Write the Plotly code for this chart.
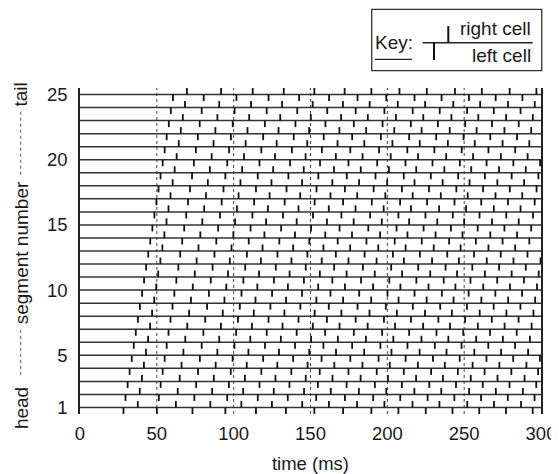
import plotly.graph_objects as go

# ---------------- data ----------------
segments = [1, 2, 3, 4, 5, 6, 7, 8, 9, 10, 11, 12, 13, 14, 15, 16, 17, 18, 19, 20, 21, 22, 23, 24, 25]
x_ticks = [0, 50, 100, 150, 200, 250, 300]
y_ticks = [1, 5, 10, 15, 20, 25]
dotted_times = [50, 100, 150, 200, 250]

# left-cell spike times (ms), one list per wave cycle, entry n = segment n+1
left_wave_01 = [28.3, 29.6, 31.0, 32.3, 33.7, 35.0, 36.3, 37.7, 39.0, 40.4, 41.7, 43.0, 44.4, 45.7, 47.1, 48.4, 49.7, 51.1, 52.4, 53.8, 55.1, 56.4, 57.8, 59.1, 60.5]
left_wave_02 = [50.0, 51.3, 52.5, 53.8, 55.1, 56.4, 57.6, 58.9, 60.2, 61.4, 62.7, 64.0, 65.2, 66.5, 67.8, 69.1, 70.3, 71.6, 72.9, 74.1, 75.4, 76.7, 77.9, 79.2, 80.5]
left_wave_03 = [73.2, 74.4, 75.6, 76.8, 78.0, 79.2, 80.3, 81.5, 82.7, 83.9, 85.1, 86.3, 87.5, 88.7, 89.9, 91.1, 92.2, 93.4, 94.6, 95.8, 97.0, 98.2, 99.4, 100.6, 101.8]
left_wave_04 = [94.6, 95.8, 96.9, 98.1, 99.3, 100.5, 101.6, 102.8, 104.0, 105.1, 106.3, 107.5, 108.6, 109.8, 111.0, 112.2, 113.3, 114.5, 115.7, 116.8, 118.0, 119.2, 120.3, 121.5, 122.7]
left_wave_05 = [114.5, 115.7, 116.8, 118.0, 119.2, 120.4, 121.5, 122.7, 123.9, 125.0, 126.2, 127.4, 128.5, 129.7, 130.9, 132.1, 133.2, 134.4, 135.6, 136.7, 137.9, 139.1, 140.2, 141.4, 142.6]
left_wave_06 = [134.0, 135.2, 136.3, 137.5, 138.7, 139.9, 141.0, 142.2, 143.4, 144.5, 145.7, 146.9, 148.0, 149.2, 150.4, 151.6, 152.7, 153.9, 155.1, 156.2, 157.4, 158.6, 159.7, 160.9, 162.1]
left_wave_07 = [152.5, 153.7, 154.8, 156.0, 157.2, 158.4, 159.5, 160.7, 161.9, 163.0, 164.2, 165.4, 166.5, 167.7, 168.9, 170.1, 171.2, 172.4, 173.6, 174.7, 175.9, 177.1, 178.2, 179.4, 180.6]
left_wave_08 = [171.2, 172.4, 173.5, 174.7, 175.9, 177.1, 178.2, 179.4, 180.6, 181.7, 182.9, 184.1, 185.2, 186.4, 187.6, 188.8, 189.9, 191.1, 192.3, 193.4, 194.6, 195.8, 196.9, 198.1, 199.3]
left_wave_09 = [189.6, 190.8, 191.9, 193.1, 194.3, 195.5, 196.6, 197.8, 199.0, 200.1, 201.3, 202.5, 203.6, 204.8, 206.0, 207.2, 208.3, 209.5, 210.7, 211.8, 213.0, 214.2, 215.3, 216.5, 217.7]
left_wave_10 = [207.2, 208.4, 209.5, 210.7, 211.9, 213.1, 214.2, 215.4, 216.6, 217.7, 218.9, 220.1, 221.2, 222.4, 223.6, 224.8, 225.9, 227.1, 228.3, 229.4, 230.6, 231.8, 232.9, 234.1, 235.3]
left_wave_11 = [225.0, 226.2, 227.3, 228.5, 229.7, 230.9, 232.0, 233.2, 234.4, 235.5, 236.7, 237.9, 239.0, 240.2, 241.4, 242.6, 243.7, 244.9, 246.1, 247.2, 248.4, 249.6, 250.7, 251.9, 253.1]
left_wave_12 = [242.4, 243.6, 244.7, 245.9, 247.1, 248.3, 249.4, 250.6, 251.8, 252.9, 254.1, 255.3, 256.4, 257.6, 258.8, 260.0, 261.1, 262.3, 263.5, 264.6, 265.8, 267.0, 268.1, 269.3, 270.5]
left_wave_13 = [259.8, 261.0, 262.1, 263.3, 264.5, 265.7, 266.8, 268.0, 269.2, 270.3, 271.5, 272.7, 273.8, 275.0, 276.2, 277.4, 278.5, 279.7, 280.9, 282.0, 283.2, 284.4, 285.5, 286.7, 287.9]
left_wave_14 = [277.2, 278.4, 279.5, 280.7, 281.9, 283.1, 284.2, 285.4, 286.6, 287.7, 288.9, 290.1, 291.2, 292.4, 293.6, 294.8, 295.9, 297.1, 298.3, 299.4]
left_wave_15 = [294.6, 295.8, 296.9, 298.1, 299.3]

# right-cell spike times (ms)
right_wave_01 = [37.6, 38.9, 40.3, 41.6, 42.9, 44.3, 45.6, 46.9, 48.3, 49.6, 50.9, 52.3, 53.6, 54.9, 56.3, 57.6, 58.9, 60.3, 61.6, 62.9, 64.3, 65.6, 66.9, 68.3, 69.6]
right_wave_02 = [62.4, 63.6, 64.9, 66.1, 67.3, 68.5, 69.8, 71.0, 72.2, 73.4, 74.7, 75.9, 77.1, 78.3, 79.6, 80.8, 82.0, 83.2, 84.5, 85.7, 86.9, 88.1, 89.4, 90.6, 91.8]
right_wave_03 = [84.8, 86.0, 87.1, 88.3, 89.4, 90.6, 91.7, 92.9, 94.0, 95.2, 96.3, 97.5, 98.6, 99.8, 100.9, 102.1, 103.2, 104.4, 105.5, 106.7, 107.8, 109.0, 110.1, 111.3, 112.4]
right_wave_04 = [105.0, 106.2, 107.3, 108.5, 109.6, 110.8, 111.9, 113.1, 114.2, 115.4, 116.5, 117.7, 118.8, 120.0, 121.1, 122.3, 123.4, 124.6, 125.7, 126.9, 128.0, 129.2, 130.3, 131.5, 132.6]
right_wave_05 = [124.9, 126.1, 127.2, 128.4, 129.5, 130.7, 131.8, 133.0, 134.1, 135.3, 136.4, 137.6, 138.7, 139.9, 141.0, 142.2, 143.3, 144.5, 145.6, 146.8, 147.9, 149.1, 150.2, 151.4, 152.5]
right_wave_06 = [144.6, 145.8, 146.9, 148.1, 149.2, 150.4, 151.5, 152.7, 153.8, 155.0, 156.1, 157.3, 158.4, 159.6, 160.7, 161.9, 163.0, 164.2, 165.3, 166.5, 167.6, 168.8, 169.9, 171.1, 172.2]
right_wave_07 = [162.0, 163.2, 164.3, 165.5, 166.6, 167.8, 168.9, 170.1, 171.2, 172.4, 173.5, 174.7, 175.8, 177.0, 178.1, 179.3, 180.4, 181.6, 182.7, 183.9, 185.0, 186.2, 187.3, 188.5, 189.6]
right_wave_08 = [180.3, 181.5, 182.6, 183.8, 184.9, 186.1, 187.2, 188.4, 189.5, 190.7, 191.8, 193.0, 194.1, 195.3, 196.4, 197.6, 198.7, 199.9, 201.0, 202.2, 203.3, 204.5, 205.6, 206.8, 207.9]
right_wave_09 = [198.1, 199.3, 200.4, 201.6, 202.7, 203.9, 205.0, 206.2, 207.3, 208.5, 209.6, 210.8, 211.9, 213.1, 214.2, 215.4, 216.5, 217.7, 218.8, 220.0, 221.1, 222.3, 223.4, 224.6, 225.7]
right_wave_10 = [216.4, 217.6, 218.7, 219.9, 221.0, 222.2, 223.3, 224.5, 225.6, 226.8, 227.9, 229.1, 230.2, 231.4, 232.5, 233.7, 234.8, 236.0, 237.1, 238.3, 239.4, 240.6, 241.7, 242.9, 244.0]
right_wave_11 = [233.9, 235.1, 236.2, 237.4, 238.5, 239.7, 240.8, 242.0, 243.1, 244.3, 245.4, 246.6, 247.7, 248.9, 250.0, 251.2, 252.3, 253.5, 254.6, 255.8, 256.9, 258.1, 259.2, 260.4, 261.5]
right_wave_12 = [252.0, 253.2, 254.3, 255.5, 256.6, 257.8, 258.9, 260.1, 261.2, 262.4, 263.5, 264.7, 265.8, 267.0, 268.1, 269.3, 270.4, 271.6, 272.7, 273.9, 275.0, 276.2, 277.3, 278.5, 279.6]
right_wave_13 = [269.4, 270.6, 271.7, 272.9, 274.0, 275.2, 276.3, 277.5, 278.6, 279.8, 280.9, 282.1, 283.2, 284.4, 285.5, 286.7, 287.8, 289.0, 290.1, 291.3, 292.4, 293.6, 294.7, 295.9, 297.0]
right_wave_14 = [287.0, 288.2, 289.3, 290.5, 291.6, 292.8, 293.9, 295.1, 296.2, 297.4, 298.5, 299.7]

left_waves = [left_wave_01, left_wave_02, left_wave_03, left_wave_04, left_wave_05,
              left_wave_06, left_wave_07, left_wave_08, left_wave_09, left_wave_10,
              left_wave_11, left_wave_12, left_wave_13, left_wave_14, left_wave_15]
right_waves = [right_wave_01, right_wave_02, right_wave_03, right_wave_04, right_wave_05,
               right_wave_06, right_wave_07, right_wave_08, right_wave_09, right_wave_10,
               right_wave_11, right_wave_12, right_wave_13, right_wave_14]

# ---------------- styling ----------------
FONT = "Liberation Sans, Arial, Helvetica, sans-serif"
INK = "#1a1a1a"
TICK_H = 0.5  # spike tick height in segment units
T_MIN, T_MAX = x_ticks[0], x_ticks[-1]

# segment baselines
bx, by = [], []
for s in segments:
    bx += [T_MIN, T_MAX, None]
    by += [s, s, None]

# right-cell ticks (above line), left-cell ticks (below line)
rx, ry = [], []
for wave in right_waves:
    for s, t in zip(segments, wave):
        rx += [t, t, None]
        ry += [s, s + TICK_H, None]
lx, ly = [], []
for wave in left_waves:
    for s, t in zip(segments, wave):
        lx += [t, t, None]
        ly += [s, s - TICK_H, None]

fig = go.Figure()
fig.add_trace(go.Scatter(x=bx, y=by, mode="lines", line=dict(color="#333333", width=1.5),
                         hoverinfo="skip", name="segment"))
fig.add_trace(go.Scatter(x=rx, y=ry, mode="lines", line=dict(color="#111111", width=1.8),
                         hoverinfo="skip", name="right cell"))
fig.add_trace(go.Scatter(x=lx, y=ly, mode="lines", line=dict(color="#111111", width=1.8),
                         hoverinfo="skip", name="left cell"))

# the page body adds an 8px margin, so the figure is drawn 8px smaller
fig.update_layout(
    width=551, height=466,
    margin=dict(l=72, r=18, t=80, b=60, autoexpand=False),
    paper_bgcolor="white", plot_bgcolor="white",
    showlegend=False,
    font=dict(family=FONT, size=19, color=INK),
)
fig.update_xaxes(
    range=[T_MIN, T_MAX], tickvals=x_ticks, ticktext=[str(v) for v in x_ticks],
    showgrid=False, zeroline=False, showline=False, ticks="", automargin=False,
    tickfont=dict(size=18.5), ticklabelstandoff=6,
    title=dict(text="time (ms)", font=dict(size=18.5), standoff=15),
)
fig.update_yaxes(
    range=[0.5, 25.5], tickvals=y_ticks, ticktext=[str(v) for v in y_ticks],
    showgrid=False, zeroline=False, showline=True, mirror=True, automargin=False,
    linecolor="#222222", linewidth=1.5, ticks="",
    tickfont=dict(size=18.5), ticklabelstandoff=7,
)

# dotted time guides
for t in dotted_times:
    fig.add_shape(type="line", xref="x", yref="paper", x0=t, x1=t, y0=0, y1=1,
                  line=dict(color="#444444", width=1, dash="dot"), layer="below")

# y-axis title: head ..... segment number ..... tail
ax_x = -0.128
for txt, yv in [("head", 0.95), ("segment number", 12.9), ("tail", 25.0)]:
    fig.add_annotation(text=txt, xref="paper", yref="y", x=ax_x, y=yv, textangle=-90,
                       showarrow=False, xanchor="center", yanchor="middle",
                       font=dict(size=19, family=FONT, color=INK))
for y0, y1 in [(18.85, 23.8), (3.5, 6.95)]:
    fig.add_shape(type="line", xref="paper", yref="y", x0=-0.1286, x1=-0.1286, y0=y0, y1=y1,
                  line=dict(color="#555555", width=1, dash="dot"))

# key box
fig.add_shape(type="rect", xref="paper", yref="paper", x0=0.6328, x1=1.0016, y0=1.0531, y1=1.2414,
              line=dict(color="#333333", width=1.3), fillcolor="white")
fig.add_shape(type="line", xref="paper", yref="paper", x0=0.7433, x1=0.9819, y0=1.139, y1=1.139,
              line=dict(color="#222222", width=1.5))
fig.add_shape(type="line", xref="paper", yref="paper", x0=0.7989, x1=0.7989, y0=1.139, y1=1.190,
              line=dict(color="#111111", width=2))
fig.add_shape(type="line", xref="paper", yref="paper", x0=0.7679, x1=0.7679, y0=1.139, y1=1.086,
              line=dict(color="#111111", width=2))
fig.add_shape(type="line", xref="paper", yref="paper", x0=0.640, x1=0.720, y0=1.088, y1=1.088,
              line=dict(color="#222222", width=1.2))
fig.add_annotation(text="Key:", xref="paper", yref="paper", x=0.6356, y=1.139,
                   xanchor="left", yanchor="middle", showarrow=False,
                   font=dict(size=19, family=FONT, color=INK))
fig.add_annotation(text="right cell", xref="paper", yref="paper", x=0.9826, y=1.181,
                   xanchor="right", yanchor="middle", showarrow=False,
                   font=dict(size=19, family=FONT, color=INK))
fig.add_annotation(text="left cell", xref="paper", yref="paper", x=0.9826, y=1.101,
                   xanchor="right", yanchor="middle", showarrow=False,
                   font=dict(size=19, family=FONT, color=INK))

fig.write_html("out.html")
